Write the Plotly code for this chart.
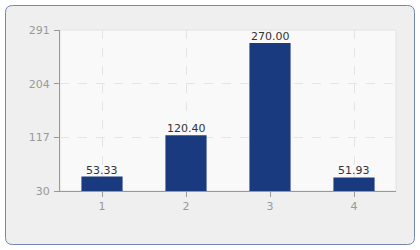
import plotly.graph_objects as go

categories = ["1", "2", "3", "4"]
values = [53.33, 120.40, 270.00, 51.93]
y_ticks = [30, 117, 204, 291]

W, H = 420, 250
L, R, T, B = 60, 24, 30, 59
pw, ph = W - L - R, H - T - B

def px(x):
    return (x - L) / pw

def py(y):
    return 1 - (y - T) / ph

fig = go.Figure()
fig.add_trace(go.Bar(
    x=categories, y=values,
    marker=dict(color="#1a3a80", line=dict(width=0)),
    width=0.49,
    hoverinfo="x+y",
))

for i, v in enumerate(values):
    fig.add_annotation(x=i, y=v, text=f"{v:.2f}", showarrow=False,
                       yanchor="bottom", yshift=-2,
                       font=dict(family="DejaVu Sans", size=11, color="#333333"))

# outer rounded panel
x0, x1, y0, y1, r = px(5.5), px(414.5), py(5.5), py(244.5), 7
rx, ry = r / pw, r / ph
path = (f"M {x0+rx},{y0} L {x1-rx},{y0} Q {x1},{y0} {x1},{y0-ry} "
        f"L {x1},{y1+ry} Q {x1},{y1} {x1-rx},{y1} L {x0+rx},{y1} "
        f"Q {x0},{y1} {x0},{y1+ry} L {x0},{y0-ry} Q {x0},{y0} {x0+rx},{y0} Z")
fig.add_shape(type="path", path=path, xref="paper", yref="paper",
              fillcolor="#efefef", line=dict(color="#7584b0", width=1), layer="below")
fig.add_shape(type="rect", xref="paper", yref="paper", x0=0, x1=1, y0=0, y1=1,
              fillcolor="#f9f9f9", line=dict(color="#e2e2e2", width=1), layer="below")

axis_common = dict(
    showline=True, linecolor="#999999", linewidth=1,
    ticks="outside", ticklen=5, tickcolor="#999999",
    tickfont=dict(family="DejaVu Sans", size=11, color="#999999"),
    showgrid=True, gridcolor="#e4e4e4", griddash="dash", gridwidth=1,
    zeroline=False,
)
fig.update_xaxes(type="category", range=[-0.5, 3.5], **axis_common)
fig.update_yaxes(range=[30, 291], tickvals=y_ticks, ticklabelstandoff=2, **axis_common)

fig.update_layout(
    width=W, height=H,
    margin=dict(l=L, r=R, t=T, b=B),
    paper_bgcolor="white",
    plot_bgcolor="rgba(0,0,0,0)",
    showlegend=False,
    bargap=0.5,
)
fig.write_html("out.html")
